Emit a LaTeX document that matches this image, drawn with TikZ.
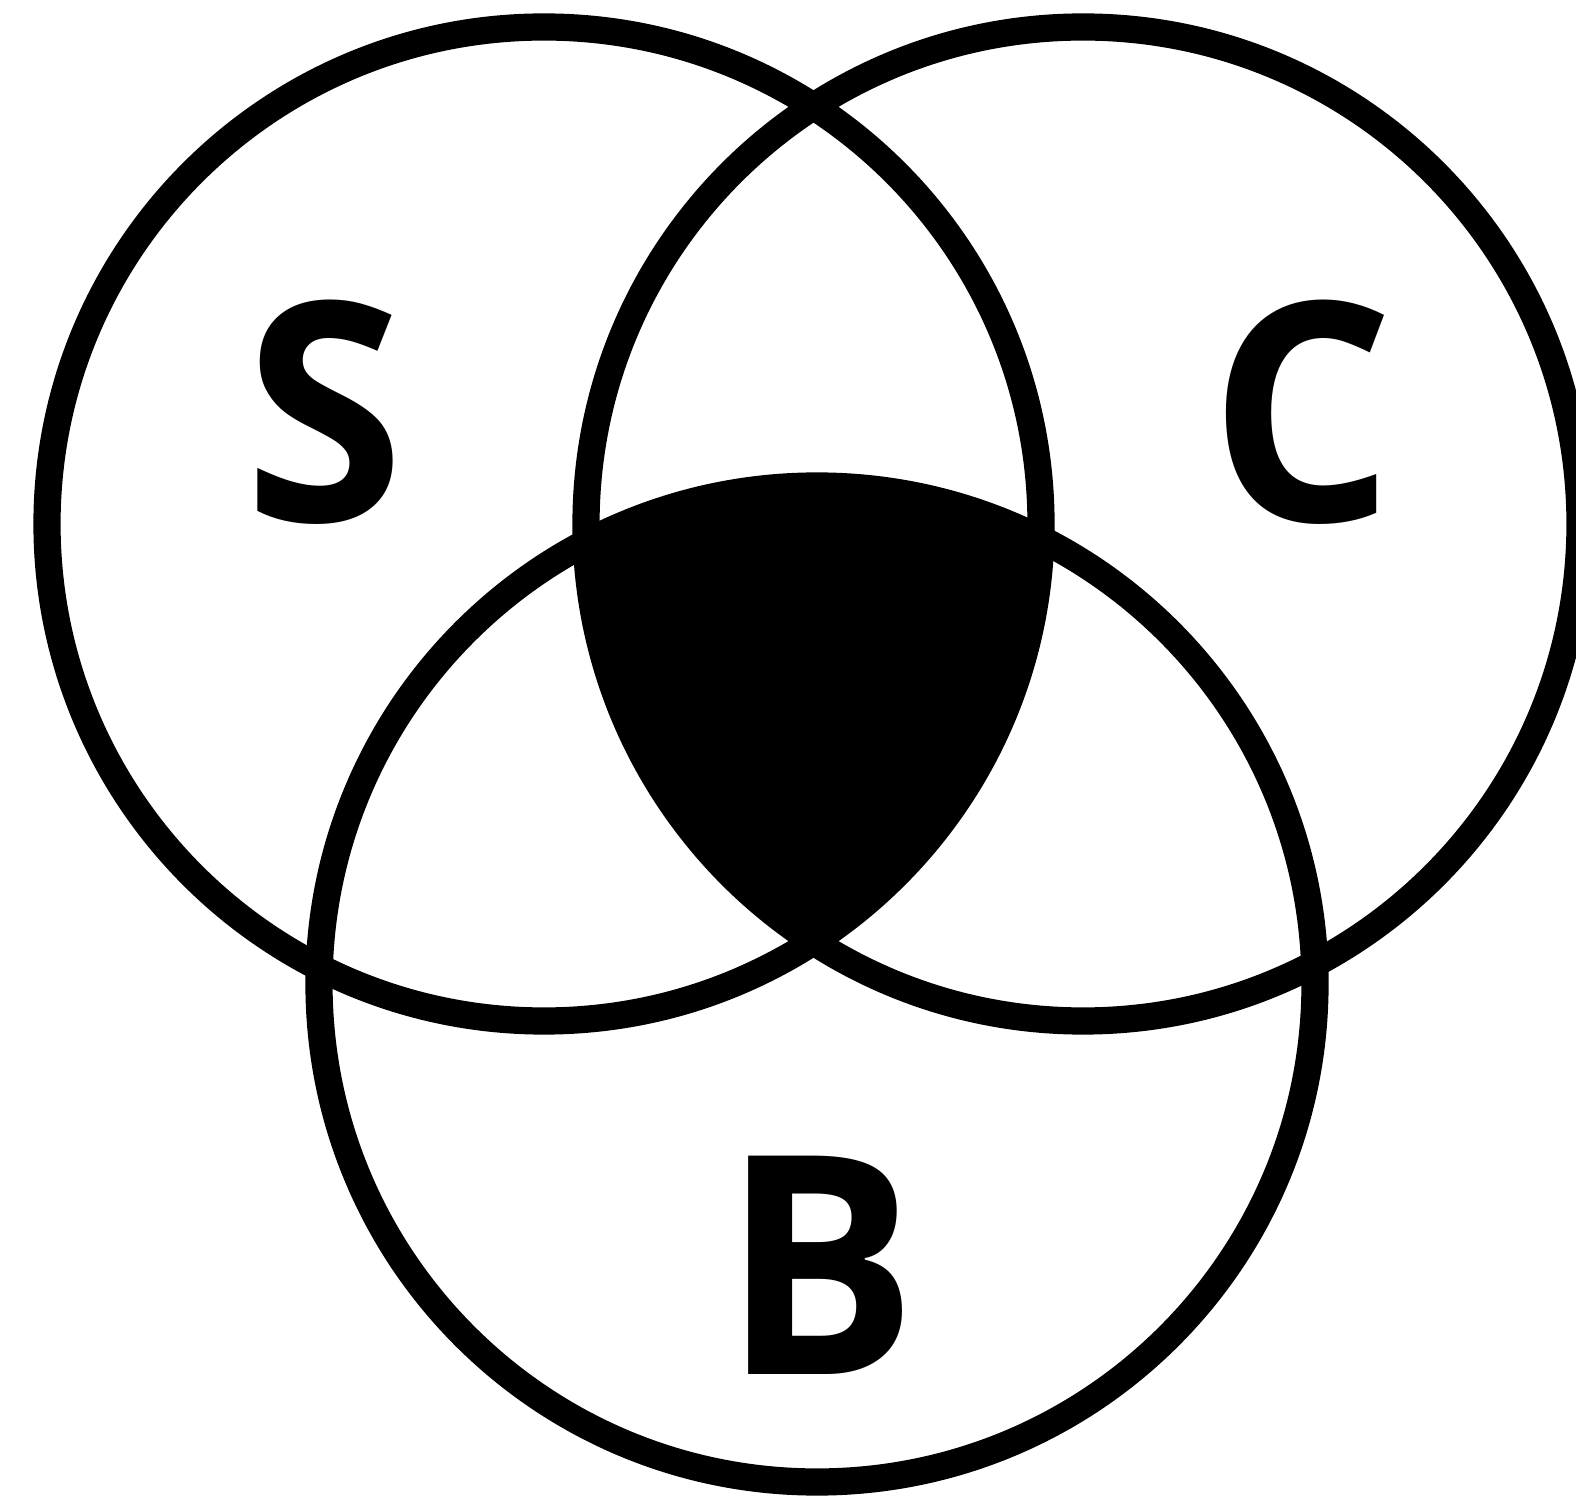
\documentclass[tikz,border=0pt]{standalone}
\usepackage{fontspec}
\setmainfont{Open Sans}[FakeStretch=0.95]
\usepackage{tikz}
\tikzset{
  setline/.style={line width=0.272cm},
  setlabel/.style={inner sep=0pt, font=\fontsize{87pt}{87pt}\selectfont\bfseries}
}

\begin{document}
\begin{tikzpicture}[x=0.01cm, y=-0.01cm]
  \clip (0,0) rectangle (1576,1501);
  % common part of all three sets
  \begin{scope}
    \clip (544,524) circle (497);
    \clip (1083,524) circle (497);
    \fill (817,984) circle (498);
  \end{scope}
  % the sets
  \foreach \cx/\cy/\r in {544/524/497, 1083/524/497, 817/984/498}{
    \draw[setline] (\cx,\cy) circle (\r);
  }
  % names
  \node[setlabel] (labS) at (325,412) {S};
  \node[setlabel] (labC) at (1302,412) {C};
  \node[setlabel] (labB) at (820,1265) {B};
\end{tikzpicture}
\end{document}
